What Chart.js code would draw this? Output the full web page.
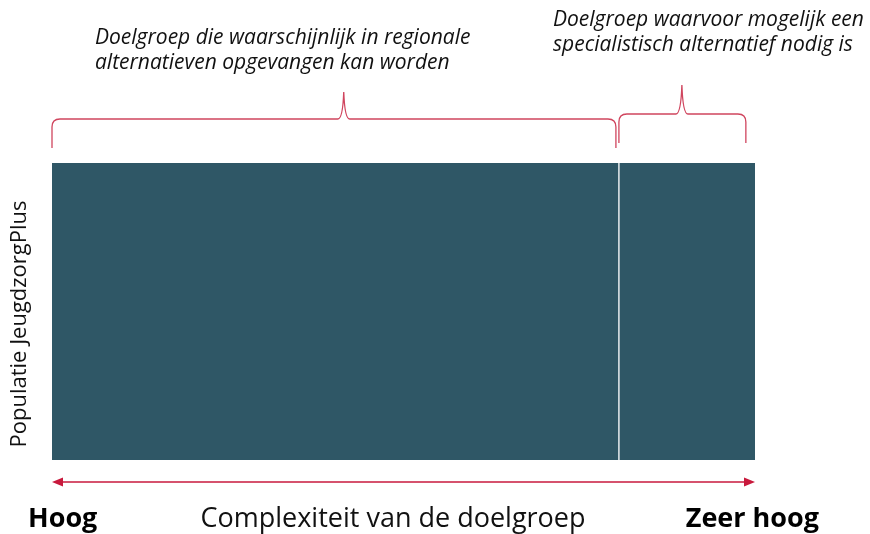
<!DOCTYPE html>
<html>
<head>
<meta charset="utf-8">
<script src="https://cdn.jsdelivr.net/npm/chart.js@4"></script>
<style>
  body { margin: 0; background: #fff; }
  canvas { display: block; }
</style>
</head>
<body>
<canvas id="chart" width="870" height="534"></canvas>
<script>
// ========== data ==========
const categories = ['Populatie JeugdzorgPlus'];
const segmentNames = ['Regionaal', 'Specialistisch'];
const segmentValues = [80.5, 19.5];
const braceFrom = [0, 80.5];
const braceTo = [80.5, 98.7];
const braceTip = [41.5, 89.6];
const braceText = [
    ['Doelgroep die waarschijnlijk in regionale', 'alternatieven opgevangen kan worden'],
    ['Doelgroep waarvoor mogelijk een', 'specialistisch alternatief nodig is']
];
const axisTitle = 'Complexiteit van de doelgroep';
const axisLow = 'Hoog';
const axisHigh = 'Zeer hoog';

const barColor = '#2f5766';
const red = '#c8193c';
const braceColor = '#d0455e';

// ========== brace/arrow/text plugin ==========
function drawBrace(ctx, x1, x2, yEnd, yLine, yTip, tipX) {
    const r = 8;
    ctx.beginPath();
    ctx.moveTo(x1, yEnd);
    ctx.lineTo(x1, yLine + r);
    ctx.quadraticCurveTo(x1, yLine, x1 + r, yLine);
    ctx.lineTo(tipX - 6, yLine);
    ctx.quadraticCurveTo(tipX - 1, yLine, tipX, yTip);
    ctx.quadraticCurveTo(tipX + 1, yLine, tipX + 6, yLine);
    ctx.lineTo(x2 - r, yLine);
    ctx.quadraticCurveTo(x2, yLine, x2, yLine + r);
    ctx.lineTo(x2, yEnd);
    ctx.stroke();
}

const decorPlugin = {
    id: 'decor',
    afterDraw(chart) {
        const ctx = chart.ctx;
        const xs = chart.scales.x;
        ctx.save();

        // accolades
        ctx.strokeStyle = braceColor;
        ctx.lineWidth = 1.3;
        const yLines = [119, 114];
        const yTips = [92, 85];
        const yEnds = [148, 143];
        braceFrom.forEach((f, i) => {
            const x1 = xs.getPixelForValue(f) + (i === 0 ? 0 : 1);
            const x2 = xs.getPixelForValue(braceTo[i]) - (i === 0 ? 2 : 0);
            const tip = xs.getPixelForValue(braceTip[i]);
            drawBrace(ctx, x1, x2, yEnds[i], yLines[i], yTips[i], tip);
        });

        // teksten bij accolades
        ctx.fillStyle = '#111';
        ctx.font = 'italic 21px "Open Sans"';
        ctx.textAlign = 'left';
        ctx.textBaseline = 'middle';
        const tx = [95, 553];
        const ty = [38, 20];
        braceText.forEach((lines, i) => {
            lines.forEach((t, j) => ctx.fillText(t, tx[i], ty[i] + j * 25));
        });

        // pijl
        const ax1 = xs.getPixelForValue(0);
        const ax2 = xs.getPixelForValue(100);
        const ay = 482;
        ctx.strokeStyle = red;
        ctx.fillStyle = red;
        ctx.lineWidth = 1.5;
        ctx.beginPath();
        ctx.moveTo(ax1 + 8, ay);
        ctx.lineTo(ax2 - 8, ay);
        ctx.stroke();
        ctx.beginPath();
        ctx.moveTo(ax1, ay); ctx.lineTo(ax1 + 11, ay - 4.5); ctx.lineTo(ax1 + 11, ay + 4.5);
        ctx.closePath(); ctx.fill();
        ctx.beginPath();
        ctx.moveTo(ax2, ay); ctx.lineTo(ax2 - 11, ay - 4.5); ctx.lineTo(ax2 - 11, ay + 4.5);
        ctx.closePath(); ctx.fill();

        // as-labels
        ctx.fillStyle = '#000';
        ctx.textBaseline = 'middle';
        ctx.font = 'bold 27px "Open Sans"';
        ctx.textAlign = 'left';
        ctx.fillText(axisLow, 28, 519);
        ctx.textAlign = 'right';
        ctx.fillText(axisHigh, 819, 519);
        ctx.fillStyle = '#111';
        ctx.font = '27px "Open Sans"';
        ctx.textAlign = 'center';
        ctx.fillText(axisTitle, 393, 519);

        // y-titel
        ctx.save();
        ctx.translate(20, 324);
        ctx.rotate(-Math.PI / 2);
        ctx.font = '22px "Open Sans"';
        ctx.fillStyle = '#111';
        ctx.fillText(categories[0], 0, 0);
        ctx.restore();

        ctx.restore();
    }
};

new Chart(document.getElementById('chart'), {
    type: 'bar',
    data: {
        labels: categories,
        datasets: [
            {
                label: segmentNames[0],
                data: [segmentValues[0]],
                backgroundColor: barColor,
                borderWidth: 0
            },
            {
                label: segmentNames[1],
                data: [segmentValues[1]],
                backgroundColor: barColor,
                borderColor: '#ffffff',
                borderWidth: { left: 2, right: 0, top: 0, bottom: 0 },
                borderSkipped: false
            }
        ]
    },
    options: {
        indexAxis: 'y',
        responsive: false,
        animation: false,
        layout: { padding: { left: 52, right: 115, top: 163, bottom: 74 } },
        datasets: { bar: { barPercentage: 1, categoryPercentage: 1 } },
        scales: {
            x: { stacked: true, min: 0, max: 100, display: false },
            y: { stacked: true, display: false }
        },
        plugins: {
            legend: { display: false },
            tooltip: { enabled: false }
        }
    },
    plugins: [decorPlugin]
});
</script>
</body>
</html>
